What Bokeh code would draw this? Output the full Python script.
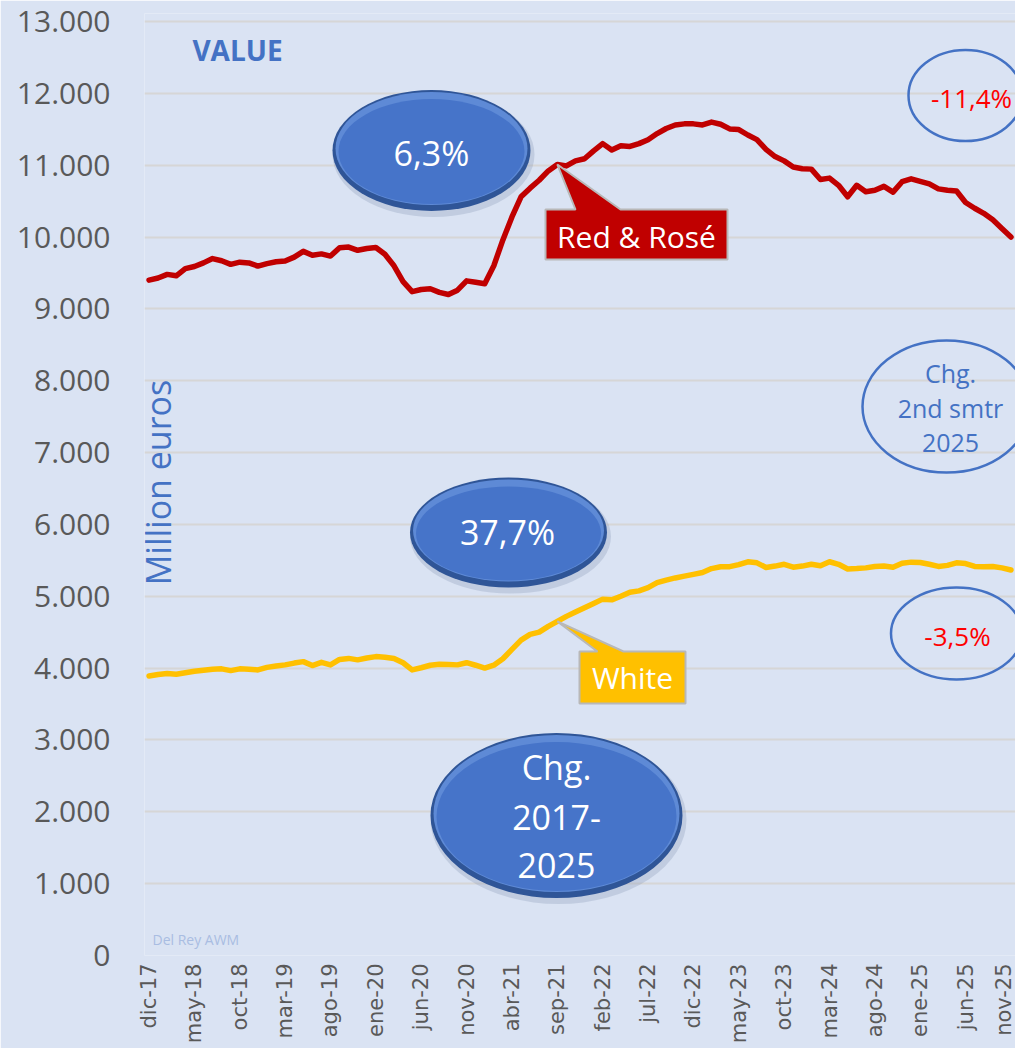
import math
from bokeh.plotting import figure
from bokeh.models import FixedTicker, Range1d
from bokeh.core.properties import value
from bokeh.embed import file_html
from bokeh.resources import INLINE

# ---------------- data ----------------
abbr = ["ene", "feb", "mar", "abr", "may", "jun", "jul", "ago", "sep", "oct", "nov", "dic"]
months = ["dic-17"] + [f"{a}-{y}" for y in range(18, 26) for a in abbr][:95]

red_rose = [9400, 9430, 9480, 9460, 9560, 9590, 9640, 9700, 9670, 9620,
            9650, 9640, 9595, 9630, 9655, 9665, 9720, 9800, 9745, 9765,
            9735, 9850, 9860, 9815, 9840, 9855, 9760, 9600, 9380, 9240,
            9270, 9280, 9230, 9200, 9260, 9390, 9370, 9350, 9600, 9960,
            10280, 10560, 10680, 10790, 10920, 11010, 10990, 11060, 11090, 11200,
            11300, 11210, 11270, 11260, 11300, 11355, 11440, 11510, 11560, 11575,
            11575, 11560, 11600, 11570, 11505, 11495, 11420, 11355, 11220, 11120,
            11060, 10975, 10950, 10945, 10800, 10820, 10720, 10560, 10720, 10630,
            10650, 10705, 10625, 10770, 10810, 10775, 10740, 10670, 10650, 10640,
            10480, 10400, 10330, 10240, 10120, 10000]

white = [3890, 3910, 3925, 3915, 3935, 3955, 3970, 3985, 3990, 3965,
         3990, 3985, 3975, 4010, 4030, 4045, 4070, 4090, 4035, 4080,
         4045, 4120, 4135, 4115, 4140, 4160, 4150, 4135, 4075, 3975,
         4005, 4040, 4055, 4050, 4045, 4075, 4040, 4000, 4040, 4130,
         4260, 4390, 4470, 4500, 4580, 4650, 4720, 4780, 4840, 4900,
         4960, 4950, 5000, 5055, 5075, 5120, 5190, 5225, 5255, 5280,
         5305, 5330, 5385, 5410, 5412, 5440, 5480, 5465, 5400, 5420,
         5445, 5405, 5420, 5445, 5425, 5480, 5445, 5380, 5385, 5395,
         5415, 5420, 5405, 5460, 5475, 5470, 5445, 5415, 5430, 5465,
         5455, 5415, 5410, 5413, 5395, 5365]

y_ticks = [0, 1000, 2000, 3000, 4000, 5000, 6000, 7000, 8000, 9000, 10000, 11000, 12000, 13000]
y_tick_labels = ["0", "1.000", "2.000", "3.000", "4.000", "5.000", "6.000", "7.000",
                 "8.000", "9.000", "10.000", "11.000", "12.000", "13.000"]
x_tick_pos = list(range(0, 96, 5))
x_tick_labels = [months[i] for i in x_tick_pos]

x = list(range(len(months)))

# ---------------- figure ----------------
W, H = 1015, 1048
BL, BR, BT, BB = 144, 0, 13, 93
XMAX = 95.5
YMAX = 13111
FW, FH = W - BL - BR, H - BT - BB
PX_X = FW / (XMAX + 0.5)
PX_Y = FH / YMAX

# picture pixel coords -> data coords, used only to place annotations
def dx(sx):
    return (sx - BL) / PX_X - 0.5

def dy(sy):
    return (H - BB - sy) / PX_Y

FONT = value("Open Sans")
BLUE = "#4472c4"

p = figure(width=W, height=H, output_backend="svg", toolbar_location=None,
           x_range=Range1d(-0.5, XMAX), y_range=Range1d(0, YMAX),
           min_border_left=BL, min_border_right=BR, min_border_top=BT, min_border_bottom=BB)
p.background_fill_color = "#dae3f3"
p.border_fill_color = "#dae3f3"
p.outline_line_color = None

p.xgrid.grid_line_color = None
p.ygrid.grid_line_color = "#d6d6d6"
p.ygrid.grid_line_width = 2

p.yaxis.ticker = FixedTicker(ticks=y_ticks)
p.yaxis.major_label_overrides = dict(zip(y_ticks, y_tick_labels))
p.yaxis.axis_line_color = None
p.yaxis.major_tick_line_color = None
p.yaxis.minor_tick_line_color = None
p.yaxis.major_tick_out = 0
p.yaxis.major_label_standoff = 34
p.yaxis.major_label_text_font = "Open Sans"
p.yaxis.major_label_text_font_size = "30px"
p.yaxis.major_label_text_color = "#595959"

p.xaxis.ticker = FixedTicker(ticks=x_tick_pos)
p.xaxis.major_label_overrides = dict(zip(x_tick_pos, x_tick_labels))
p.xaxis.axis_line_color = None
p.xaxis.major_tick_line_color = None
p.xaxis.minor_tick_line_color = None
p.xaxis.major_tick_out = 0
p.xaxis.major_label_standoff = 8
p.xaxis.major_label_orientation = math.pi / 2
p.xaxis.major_label_text_font = "DejaVu Sans"
p.xaxis.major_label_text_font_size = "21px"
p.xaxis.major_label_text_color = "#595959"

# ---------------- series ----------------
p.line(x, red_rose, line_color="#c00000", line_width=5.5, line_join="round", line_cap="round")
p.line(x, white, line_color="#ffc000", line_width=5.5, line_join="round", line_cap="round")

# ---------------- annotations ----------------
def txt(sx, sy, t, size, color, style="normal", align="center", angle=0.0):
    p.text(x=[dx(sx)], y=[dy(sy)], text=[t], text_font=FONT, text_font_size=size,
           text_color=color, text_font_style=style, text_align=align,
           text_baseline="middle", angle=angle)

def ell(sx, sy, w, h, **kw):
    p.ellipse(x=[dx(sx)], y=[dy(sy)], width=w, height=h,
              width_units="screen", height_units="screen", **kw)

def bubble(sx, sy, w, h):
    ell(sx + 2, sy + 4, w + 4, h + 4, fill_color="#8797b5", fill_alpha=0.3, line_color=None)
    ell(sx, sy, w, h, fill_color="#2f5597", line_color=None)
    ell(sx, sy - 2, w - 6, h - 8, fill_color="#5e8ad6", line_color=None)
    ell(sx, sy + 1, w - 12, h - 16, fill_color="#4674c9", line_color=None)

# title
txt(237, 49, "VALUE", "28px", BLUE, style="bold")

# axis title (inside plot area)
txt(157, 482, "Million euros", "34px", BLUE, angle=math.pi / 2)

# 3D bubbles
bubble(431, 150, 198, 121)
txt(431, 152, "6,3%", "34px", "white")
bubble(508, 532, 197, 110)
txt(507, 531, "37,7%", "34px", "white")
bubble(556, 815, 252, 165)
txt(556, 766, "Chg.", "34px", "white")
txt(556, 817, "2017-", "34px", "white")
txt(556, 865, "2025", "34px", "white")

# outline ellipses on the right
ell(965, 95, 114, 91, fill_color=None, line_color=BLUE, line_width=2.5)
txt(971, 97, "-11,4%", "26px", "#ff0000")
ell(946, 406, 168, 132, fill_color=None, line_color=BLUE, line_width=2.5)
txt(950, 372, "Chg.", "25px", BLUE)
txt(950, 407, "2nd smtr", "25px", BLUE)
txt(950, 442, "2025", "25px", BLUE)
ell(956, 633, 131, 92, fill_color=None, line_color=BLUE, line_width=2.5)
txt(957, 635, "-3,5%", "26px", "#ff0000")

# callouts pointing at sep-21
def callout(x0, x1, y0, y1, b0, b1, apex_x, apex_y, fill):
    xs = [dx(x0), dx(b0), apex_x, dx(b1), dx(x1), dx(x1), dx(x0)]
    ys = [dy(y0), dy(y0), apex_y, dy(y0), dy(y0), dy(y1), dy(y1)]
    p.patch(xs, ys, fill_color=fill, line_color="#b8b8b8", line_width=2)

callout(545, 727, 209, 259, 575, 620, x[45], red_rose[45], "#c00000")
txt(636, 236, "Red & Rosé", "30px", "white")
callout(579, 685, 651, 703, 597, 623, x[45], white[45], "#ffc000")
txt(632, 677, "White", "30px", "white")

# watermark
txt(152, 939, "Del Rey AWM", "14px", "#a9bde2", align="left")

open("out.html", "w").write(file_html(p, INLINE))
